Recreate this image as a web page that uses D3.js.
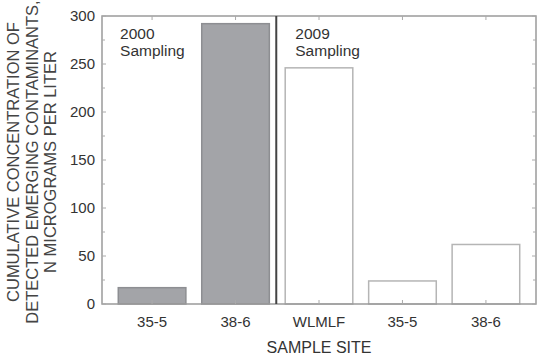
<!DOCTYPE html>
<html lang="en">
<head>
  <meta charset="UTF-8">
  <title>Emerging contaminants</title>
  <script src="https://d3js.org/d3.v7.min.js"></script>
  <style>
    body { margin: 0; background: white; }
    svg { display: block; font-family: "Liberation Sans", Arial, sans-serif; }
    .tick-label { font-size: 15px; fill: #333; }
    .title { font-size: 16.5px; fill: #444; }
    .note { font-size: 15.5px; fill: #333; }
  </style>
</head>
<body>
  <svg id="chart"></svg>
  <script>
    const categories = ["35-5", "38-6", "WLMLF", "35-5 ", "38-6 "];
    const tickLabels = ["35-5", "38-6", "WLMLF", "35-5", "38-6"];
    const values = [17, 292, 246, 24, 62];
    const periods = ["2000", "2000", "2009", "2009", "2009"];
    const yTicks = [0, 50, 100, 150, 200, 250, 300];

    const width = 537, height = 356;
    const margin = { top: 16, right: 1, bottom: 52, left: 102 };
    const svg = d3.select("#chart").attr("width", width).attr("height", height);

    const x = d3.scalePoint().domain(categories)
      .range([margin.left, width - margin.right]).padding(0.6);
    const y = d3.scaleLinear().domain([0, 300]).range([height - margin.bottom, margin.top]);
    const barW = x.step() * 0.81;

    // bars
    svg.selectAll(".bar").data(categories).join("rect")
      .attr("class", "bar")
      .attr("x", d => x(d) - barW / 2)
      .attr("y", (d, i) => y(values[i]))
      .attr("width", barW)
      .attr("height", (d, i) => y(0) - y(values[i]))
      .attr("fill", (d, i) => periods[i] === "2000" ? "#a3a4a8" : "white")
      .attr("stroke", (d, i) => periods[i] === "2000" ? "#8d8e92" : "#b5b5b5")
      .attr("stroke-width", 1.5);

    // frame
    svg.append("rect")
      .attr("x", margin.left).attr("y", margin.top)
      .attr("width", width - margin.right - margin.left)
      .attr("height", y(0) - margin.top)
      .attr("fill", "none").attr("stroke", "#9a9a9a").attr("stroke-width", 1.5);

    // y ticks (inward, left and right) with minor ticks
    const minor = d3.range(25, 300, 50);
    [margin.left, width - margin.right].forEach((xp, side) => {
      const dir = side === 0 ? 1 : -1;
      svg.selectAll(null).data(yTicks.concat(minor)).join("line")
        .attr("x1", xp).attr("x2", d => xp + dir * (yTicks.includes(d) ? 4 : 3))
        .attr("y1", d => y(d)).attr("y2", d => y(d))
        .attr("stroke", "#aaa").attr("stroke-width", 1);
    });

    svg.selectAll(".ylab").data(yTicks).join("text")
      .attr("class", "tick-label")
      .attr("x", margin.left - 7).attr("y", d => y(d) + 5)
      .attr("text-anchor", "end")
      .text(d => d);

    // x ticks (inward, top and bottom)
    [[y(0), -1], [margin.top, 1]].forEach(([yp, dir]) => {
      svg.selectAll(null).data(categories).join("line")
        .attr("x1", d => x(d)).attr("x2", d => x(d))
        .attr("y1", yp).attr("y2", yp + dir * 4)
        .attr("stroke", "#aaa").attr("stroke-width", 1);
    });

    svg.selectAll(".xlab").data(categories).join("text")
      .attr("class", "tick-label")
      .attr("x", d => x(d)).attr("y", y(0) + 23)
      .attr("text-anchor", "middle")
      .text((d, i) => tickLabels[i]);

    // divider between sampling periods
    const divX = (x(categories[1]) + x(categories[2])) / 2 - 1;
    svg.append("line")
      .attr("x1", divX).attr("x2", divX)
      .attr("y1", margin.top).attr("y2", y(0))
      .attr("stroke", "#444").attr("stroke-width", 2);

    // period notes
    [["2000", x(categories[0]) - 32], ["2009", divX + 19]].forEach(([yr, xp]) => {
      const t = svg.append("text").attr("class", "note").attr("x", xp).attr("y", 39);
      t.append("tspan").attr("x", xp).text(yr);
      t.append("tspan").attr("x", xp).attr("dy", 17).text("Sampling");
    });

    // axis titles
    svg.append("text").attr("class", "tick-label")
      .attr("x", x(categories[2])).attr("y", 353)
      .attr("text-anchor", "middle")
      .style("font-size", "16px")
      .text("SAMPLE SITE");

    const yTitle = ["CUMULATIVE CONCENTRATION OF", "DETECTED EMERGING CONTAMINANTS,", "N MICROGRAMS PER LITER"];
    const yc = 162;
    yTitle.forEach((line, i) => {
      svg.append("text").attr("class", "title")
        .attr("transform", `translate(${19 + i * 18.5},${yc}) rotate(-90)`)
        .attr("text-anchor", "middle")
        .text(line);
    });
  </script>
</body>
</html>
